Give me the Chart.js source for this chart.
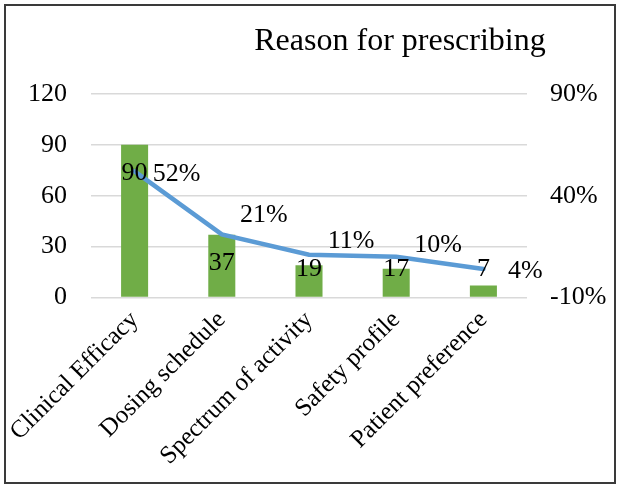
<!DOCTYPE html>
<html>
<head>
<meta charset="utf-8">
<script src="https://cdn.jsdelivr.net/npm/chart.js@4.4.0/dist/chart.umd.min.js"></script>
<style>
  html, body { margin: 0; padding: 0; background: #fff; }
  #wrap { position: relative; width: 620px; height: 486px; }
</style>
</head>
<body>
<div id="wrap"><canvas id="chart" width="620" height="486"></canvas></div>
<script>
// data
const categories = ['Clinical Efficacy', 'Dosing schedule', 'Spectrum of activity', 'Safety profile', 'Patient preference'];
const counts = [90, 37, 19, 17, 7];
const percents = [0.52, 0.21, 0.11, 0.10, 0.04];
const leftTicks = [0, 30, 60, 90, 120];
const rightTicks = [-0.1, 0.4, 0.9];

const FONT = "'Liberation Serif', 'Times New Roman', serif";

// draws border, title and data labels
const decorPlugin = {
    id: 'decor',
    beforeDraw(chart) {
        const ctx = chart.ctx;
        ctx.save();
        ctx.fillStyle = '#fff';
        ctx.fillRect(0, 0, chart.width, chart.height);
        ctx.strokeStyle = '#3a3a3a';
        ctx.lineWidth = 2;
        ctx.strokeRect(5, 5, chart.width - 10, chart.height - 8);
        ctx.fillStyle = '#000';
        ctx.font = '32px ' + FONT;
        ctx.textAlign = 'center';
        ctx.textBaseline = 'middle';
        ctx.fillText('Reason for prescribing', 400, 42);
        ctx.restore();
    },
    afterDatasetsDraw(chart) {
        const ctx = chart.ctx;
        ctx.save();
        ctx.fillStyle = '#000';
        ctx.font = '26px ' + FONT;
        ctx.textAlign = 'center';
        ctx.textBaseline = 'middle';
        // bar labels, inside end
        chart.getDatasetMeta(1).data.forEach((el, i) => {
            const y = Math.min(el.y + 28, el.base - 28);
            ctx.fillText(String(counts[i]), el.x, y);
        });
        // line labels, to the right of the point
        const dy = [3, -19, -14, -12, 2];
        chart.getDatasetMeta(0).data.forEach((el, i) => {
            ctx.fillText(Math.round(percents[i] * 100) + '%', el.x + 42, el.y + dy[i]);
        });
        ctx.restore();
    }
};

new Chart(document.getElementById('chart'), {
    data: {
        labels: categories,
        datasets: [
            {
                type: 'line',
                label: 'Percent',
                data: percents,
                yAxisID: 'y1',
                borderColor: '#5B9BD5',
                borderWidth: 4.5,
                pointRadius: 0,
                tension: 0,
                borderCapStyle: 'round',
                order: 1
            },
            {
                type: 'bar',
                label: 'Count',
                data: counts,
                yAxisID: 'y',
                backgroundColor: '#70AD47',
                barPercentage: 0.31,
                categoryPercentage: 1,
                order: 2
            }
        ]
    },
    options: {
        responsive: false,
        animation: false,
        layout: { padding: { left: 28, right: 14, top: 94, bottom: 7 } },
        plugins: {
            legend: { display: false },
            title: { display: false },
            tooltip: { enabled: false }
        },
        scales: {
            x: {
                grid: { display: false, drawTicks: false },
                border: { display: false },
                ticks: {
                    color: '#000',
                    font: { family: FONT, size: 25 },
                    minRotation: 45,
                    maxRotation: 45,
                    padding: 8,
                    autoSkip: false
                },
                // rotated labels may overflow to the left, like in the original
                afterFit: axis => { axis.paddingLeft = 0; axis.paddingRight = 0; }
            },
            y: {
                position: 'left',
                min: 0,
                max: 120,
                afterBuildTicks: axis => { axis.ticks = leftTicks.map(v => ({ value: v })); },
                afterFit: axis => { axis.width = 63; },
                grid: { color: '#d9d9d9', lineWidth: 1.5, drawTicks: false },
                border: { display: false },
                ticks: {
                    color: '#000',
                    font: { family: FONT, size: 26 },
                    padding: 24
                }
            },
            y1: {
                position: 'right',
                min: -0.1,
                max: 0.9,
                afterBuildTicks: axis => { axis.ticks = rightTicks.map(v => ({ value: v })); },
                afterFit: axis => { axis.width = 79; },
                grid: { display: false, drawTicks: false },
                border: { display: false },
                ticks: {
                    color: '#000',
                    font: { family: FONT, size: 26 },
                    padding: 23,
                    callback: v => Math.round(v * 100) + '%'
                }
            }
        }
    },
    plugins: [decorPlugin]
});
</script>
</body>
</html>
